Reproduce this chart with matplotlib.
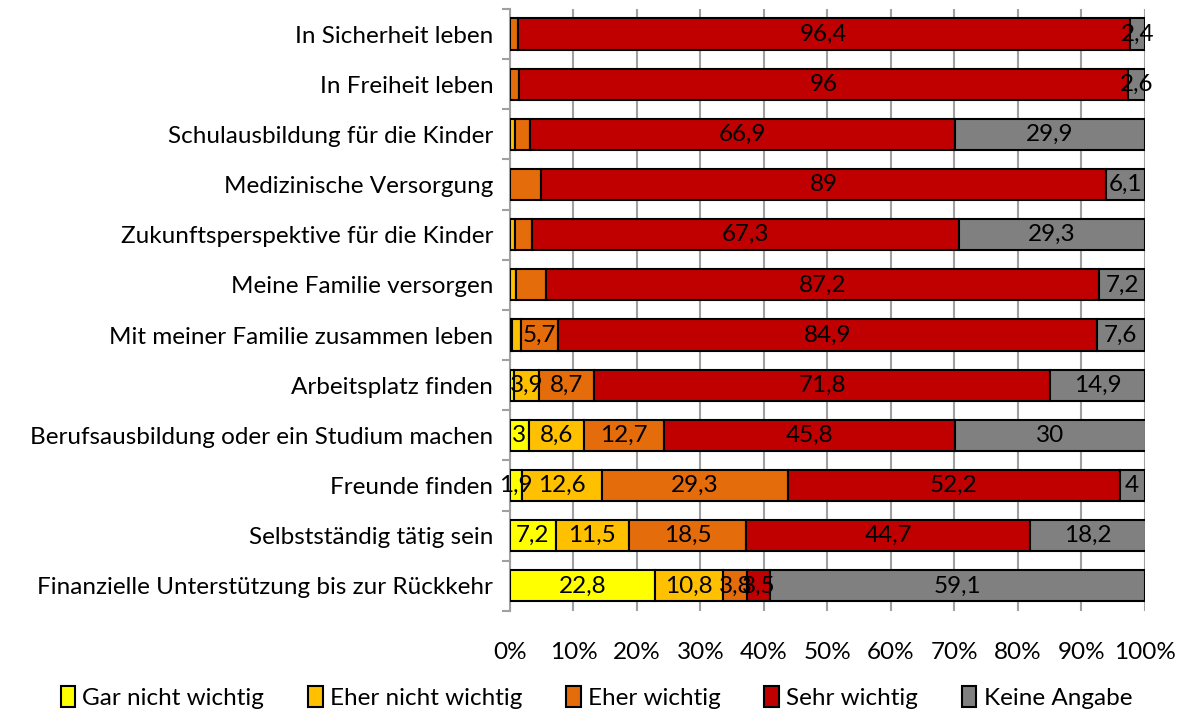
import matplotlib.pyplot as plt
import numpy as np

plt.rcParams["font.family"] = ["Lato", "DejaVu Sans"]

categories = [
    "In Sicherheit leben",
    "In Freiheit leben",
    "Schulausbildung für die Kinder",
    "Medizinische Versorgung",
    "Zukunftsperspektive für die Kinder",
    "Meine Familie versorgen",
    "Mit meiner Familie zusammen leben",
    "Arbeitsplatz finden",
    "Berufsausbildung oder ein Studium machen",
    "Freunde finden",
    "Selbstständig tätig sein",
    "Finanzielle Unterstützung bis zur Rückkehr",
]

series_names = ["Gar nicht wichtig", "Eher nicht wichtig", "Eher wichtig",
                "Sehr wichtig", "Keine Angabe"]

gar_nicht = [0, 0, 0, 0, 0, 0, 0.4, 0.7, 3, 1.9, 7.2, 22.8]
eher_nicht = [0, 0, 0.8, 0, 0.8, 0.9, 1.4, 3.9, 8.6, 12.6, 11.5, 10.8]
eher_wichtig = [1.2, 1.4, 2.4, 4.9, 2.6, 4.7, 5.7, 8.7, 12.7, 29.3, 18.5, 3.8]
sehr_wichtig = [96.4, 96, 66.9, 89, 67.3, 87.2, 84.9, 71.8, 45.8, 52.2, 44.7, 3.5]
keine_angabe = [2.4, 2.6, 29.9, 6.1, 29.3, 7.2, 7.6, 14.9, 30, 4, 18.2, 59.1]

# values that carry a data label in the original (others were left unlabeled)
labeled = [
    [False, False, False, False, False, False, False, False, True, True, True, True],
    [False, False, False, False, False, False, False, True, True, True, True, True],
    [False, False, False, False, False, False, True, True, True, True, True, True],
    [True] * 12,
    [True] * 12,
]

colors = ["#FFFF00", "#FFC000", "#E46C0A", "#C00000", "#808080"]


def fmt(v):
    s = f"{v:g}"
    return s.replace(".", ",")


fig = plt.figure(figsize=(11.81, 7.15), dpi=100)
ax = fig.add_axes([0.4318, 0.1455, 0.5377, 0.842])

series = [gar_nicht, eher_nicht, eher_wichtig, sehr_wichtig, keine_angabe]
y = np.arange(len(categories))
left = np.zeros(len(categories))

for name, vals, color, show in zip(series_names, series, colors, labeled):
    vals = np.array(vals, dtype=float)
    ax.barh(y, vals, left=left, height=0.62, color=color, edgecolor="black",
            linewidth=1.5, label=name, zorder=3)
    for i, v in enumerate(vals):
        if show[i] and v > 0:
            ax.text(left[i] + v / 2, y[i], fmt(v), ha="center", va="center",
                    fontsize=17.5, color="black", zorder=4)
    left += vals

ax.set_xlim(0, 100)
ax.set_ylim(len(categories) - 0.5, -0.5)
ax.set_xticks(np.arange(0, 101, 10))
ax.set_xticklabels([f"{t}%" for t in range(0, 101, 10)], fontsize=17.5)
ax.tick_params(axis="x", length=0, pad=22)
ax.set_yticks(y)
ax.set_yticklabels(categories, fontsize=17.5)
ax.tick_params(axis="y", length=0, pad=12)
ax.set_yticks(np.arange(-0.5, len(categories), 1), minor=True)
ax.tick_params(axis="y", which="minor", length=6, color="#A0A0A0", width=1.5)
ax.grid(axis="x", color="#A0A0A0", linewidth=1.5, zorder=0)
ax.set_axisbelow(True)

for side in ["top", "right", "bottom"]:
    ax.spines[side].set_visible(False)
ax.spines["left"].set_color("#A0A0A0")
ax.spines["left"].set_linewidth(1.5)

ax.legend(loc="lower center", bbox_to_anchor=(0.505, -0.022), bbox_transform=fig.transFigure,
          ncol=5, frameon=False, fontsize=17.5, handlelength=0.6, handleheight=0.9,
          handletextpad=0.3, columnspacing=1.8)

fig.savefig("out.png", dpi=100)
